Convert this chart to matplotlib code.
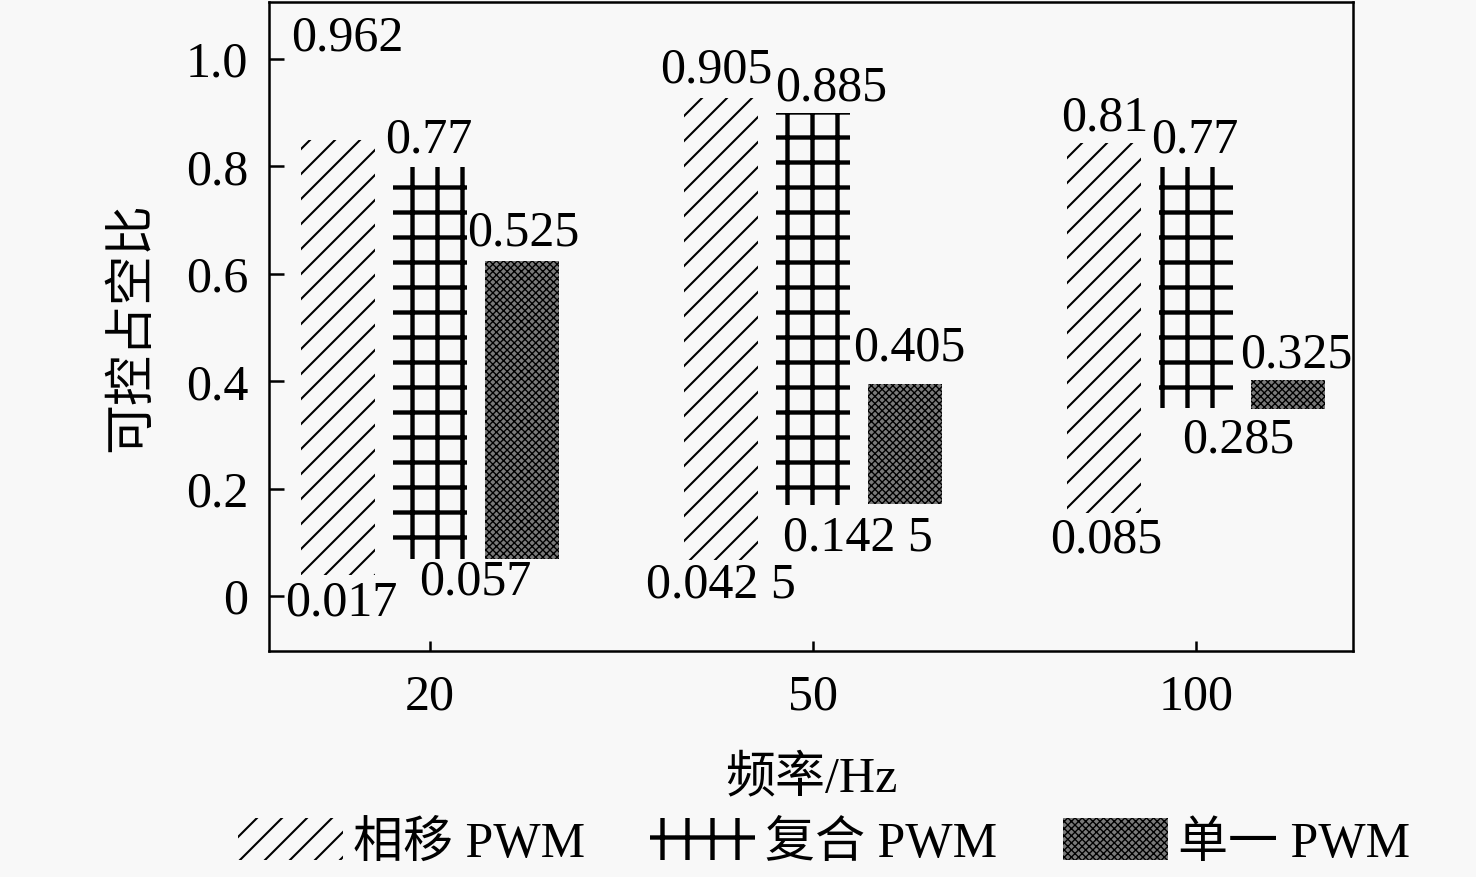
import matplotlib
matplotlib.use("Agg")
import matplotlib.pyplot as plt
import numpy as np

# Data
categories = ["20", "50", "100"]
series_names = ["相移 PWM", "复合 PWM", "单一 PWM"]

# bar bottoms / tops as drawn
phase_low = [0.039, 0.067, 0.155]
phase_high = [0.849, 0.927, 0.844]
comp_low = [0.069, 0.169, 0.350]
comp_high = [0.799, 0.899, 0.799]
single_low = [0.069, 0.171, 0.348]
single_high = [0.624, 0.395, 0.402]

# value labels printed on the chart
phase_top_lbl = ["0.962", "0.905", "0.81"]
phase_bot_lbl = ["0.017", "0.042 5", "0.085"]
comp_top_lbl = ["0.77", "0.885", "0.77"]
comp_bot_lbl = ["0.057", "0.142 5", "0.285"]
single_top_lbl = ["0.525", "0.405", "0.325"]

yticks = [0, 0.2, 0.4, 0.6, 0.8, 1.0]
ytick_labels = ["0", "0.2", "0.4", "0.6", "0.8", "1.0"]

BG = "#f8f8f8"
plt.rcParams["font.family"] = ["Liberation Serif", "Noto Sans CJK SC"]
plt.rcParams["font.size"] = 24
plt.rcParams["hatch.color"] = "black"

fig = plt.figure(figsize=(9.84, 5.8467), dpi=150, facecolor=BG)
ax = fig.add_axes([0.1823, 0.2577, 0.7344, 0.7400], facecolor=BG)

x = np.arange(len(categories))
offset = 0.24
width = 0.195
hatch_lw = [1.0, 2.1, 0.65]


def range_bars(xpos, low, high, hatch, hlw, face):
    low = np.array(low)
    high = np.array(high)
    with plt.rc_context({"hatch.linewidth": hlw}):
        bars = ax.bar(xpos, high - low, width, bottom=low, hatch=hatch,
                      facecolor=face, edgecolor="black", linewidth=0)
    for b in bars:
        if hasattr(b, "set_hatch_linewidth"):
            b.set_hatch_linewidth(hlw)
    return bars


b1 = range_bars(x - offset, phase_low, phase_high, "//", hatch_lw[0], "none")
b2 = range_bars(x, comp_low, comp_high, "+", hatch_lw[1], "none")
b3 = range_bars(x + offset, single_low, single_high, "xxxxxxx", hatch_lw[2], "#7a7a7a")

# (dx, dy) offsets in pixels for the value labels, relative to bar end
top_off = [
    [(9, 102), (-5, 28), (1, 25)],
    [(-1, 27), (18, 25), (-1, 27)],
    [(1, 28), (4, 36), (8, 25)],
]
bot_off = [
    [(3, 28), (0, 25), (2, 27)],
    [(45, 23), (45, 33), (42, 32)],
]
px = 72 / 150

tops = [(x - offset, phase_high, phase_top_lbl),
        (x, comp_high, comp_top_lbl),
        (x + offset, single_high, single_top_lbl)]
for (xs, ys, lbls), offs in zip(tops, top_off):
    for xi, yi, t, (dx, dy) in zip(xs, ys, lbls, offs):
        ax.annotate(t, (xi, yi), xytext=(dx * px, dy * px),
                    textcoords="offset points", ha="center", va="center")

bots = [(x - offset, phase_low, phase_bot_lbl),
        (x, comp_low, comp_bot_lbl)]
for (xs, ys, lbls), offs in zip(bots, bot_off):
    for xi, yi, t, (dx, dy) in zip(xs, ys, lbls, offs):
        ax.annotate(t, (xi, yi), xytext=(dx * px, -dy * px),
                    textcoords="offset points", ha="center", va="center")

ax.set_xlim(-0.42, 2.41)
ax.set_ylim(-0.102, 1.106)
ax.set_xticks(x)
ax.set_xticklabels(categories)
ax.set_yticks(yticks)
ax.set_yticklabels(ytick_labels)
ax.tick_params(axis="y", direction="in", length=7, width=1.2, pad=10)
ax.tick_params(axis="x", direction="in", length=5, width=1.2, pad=11)
ax.tick_params(top=False, right=False)
for s in ax.spines.values():
    s.set_linewidth(1.2)

ax.set_xlabel("频率/Hz", labelpad=17)
ax.set_ylabel("可控占空比", labelpad=14)

leg = fig.legend([b1[0], b2[0], b3[0]], series_names, loc="center",
                 bbox_to_anchor=(824 / 1476, 1 - 843 / 877), ncol=3, frameon=False,
                 handlelength=2.1, handleheight=0.9, handletextpad=0.2,
                 columnspacing=1.3, borderpad=0)
for p, lw in zip(leg.get_patches(), hatch_lw):
    if hasattr(p, "set_hatch_linewidth"):
        p.set_hatch_linewidth(lw)

fig.savefig("out.png", dpi=150, facecolor=BG)
